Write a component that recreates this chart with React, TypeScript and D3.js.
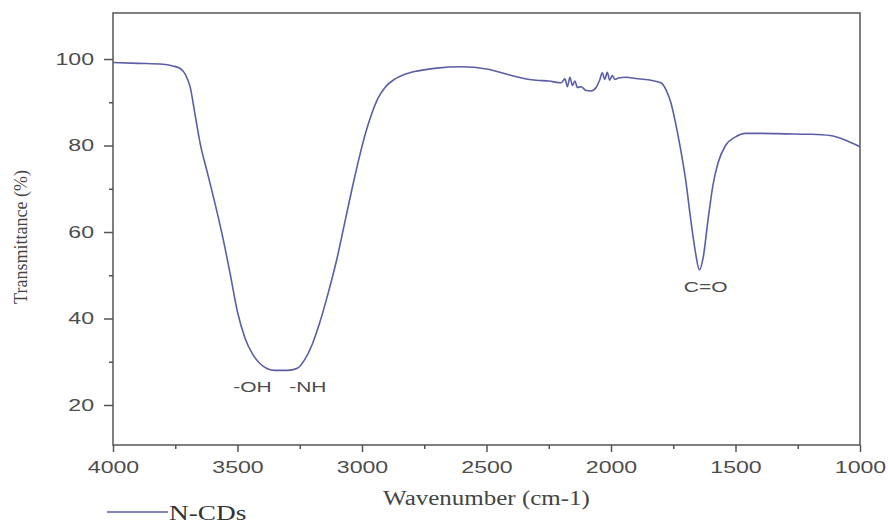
import { useEffect, useRef } from "react";
import * as d3 from "d3";

// FTIR spectrum of N-CDs
const wavenumbers = [
  4000, 3900, 3800, 3760, 3730, 3710, 3690, 3670, 3650, 3620, 3590, 3560, 3530,
  3500, 3470, 3440, 3410, 3380, 3350, 3300, 3260, 3230, 3200, 3170, 3140, 3100,
  3070, 3040, 3010, 2985, 2960, 2935, 2905, 2870, 2830, 2780, 2700, 2600, 2500,
  2450, 2400, 2350, 2300, 2250, 2200, 2185, 2175, 2165, 2155, 2145, 2135, 2120,
  2100, 2080, 2060, 2045, 2035, 2025, 2015, 2005, 1995, 1985, 1970, 1940, 1900,
  1850, 1800, 1780, 1760, 1740, 1720, 1700, 1680, 1660, 1645, 1630, 1610, 1590,
  1570, 1540, 1500, 1460, 1400, 1300, 1200, 1120, 1060, 1000,
];
const transmittance = [
  99.2, 99.0, 98.8, 98.4, 97.8, 96.5, 93.5, 87, 80.5, 73.5, 66.5, 59, 50.5,
  41.5, 35.5, 31.8, 29.6, 28.4, 28, 28, 28.5, 30.5, 34, 39, 45, 54,
  62, 70, 77.5, 83, 87.5, 91, 93.6, 95.3, 96.4, 97.2, 97.9, 98.2, 97.7,
  97.0, 96.2, 95.5, 95.1, 94.9, 94.5, 95.4, 93.6, 95.8, 93.9, 94.9, 93.4, 93.6,
  92.7, 92.6, 93.4, 95.2, 96.8, 95.3, 96.9, 95.1, 96.2, 95.3, 95.6, 95.8, 95.5,
  95.2, 94.5, 93, 90, 85, 79, 72, 63, 55, 51.2, 54, 63, 71,
  76, 80, 82, 82.8, 82.8, 82.7, 82.6, 82.3, 81.3, 79.7,
];

const xTicks = [4000, 3500, 3000, 2500, 2000, 1500, 1000];
const xMinor = [3750, 3250, 2750, 2250, 1750, 1250];
const yTicks = [20, 40, 60, 80, 100];
const yMinor = [30, 50, 70, 90];

// peak labels, anchored at the wavenumber under their centre
const annotations = [
  { label: "-OH\u00a0\u00a0\u00a0-NH", wn: 3330, t: 28 },
  { label: "C=O", wn: 1620, t: 51.2 },
];

const seriesName = "N-CDs";

export default function App() {
  const svgRef = useRef<SVGSVGElement | null>(null);
  const width = 888;
  const height = 525;

  useEffect(() => {
    if (!svgRef.current) return;
    const left = 113, right = 860, top = 13, bottom = 445;
    const axisColor = "#555";
    const lineColor = "#5b5ea6";
    const stretch = 1.36;

    const x = d3.scaleLinear([4000, 1000], [left, right]);
    const y = d3.scaleLinear([10.75, 110.64], [bottom, top]);

    const svg = d3.select(svgRef.current);

    // frame
    svg.append("rect")
      .attr("x", left).attr("y", top)
      .attr("width", right - left).attr("height", bottom - top)
      .attr("fill", "none").attr("stroke", axisColor).attr("stroke-width", 1.5);

    // x axis
    const gx = svg.append("g")
      .attr("transform", `translate(0,${bottom})`)
      .call(d3.axisBottom(x).tickValues(xTicks).tickFormat(d3.format("d")).tickSize(7).tickPadding(9).tickSizeOuter(0));
    gx.append("g").call(d3.axisBottom(x).tickValues(xMinor).tickFormat(() => "").tickSize(4).tickSizeOuter(0));

    // y axis
    const gy = svg.append("g")
      .attr("transform", `translate(${left},0)`)
      .call(d3.axisLeft(y).tickValues(yTicks).tickSize(9).tickSizeOuter(0));
    gy.append("g").call(d3.axisLeft(y).tickValues(yMinor).tickFormat(() => "").tickSize(4).tickSizeOuter(0));

    svg.selectAll(".domain").remove();
    svg.selectAll(".tick line").attr("stroke", axisColor).attr("stroke-width", 1.5);
    svg.selectAll(".tick text")
      .attr("fill", "#4d4d4d")
      .attr("font-family", "'Liberation Sans', Arial, sans-serif")
      .attr("font-size", 17);
    gx.selectAll(".tick text").attr("transform", `scale(${stretch},1)`);
    gy.selectAll(".tick text").attr("x", -19 / stretch).attr("transform", `scale(${stretch},1)`);

    // spectrum
    const data = wavenumbers.map((w, i) => [w, transmittance[i]] as [number, number]);
    const line = d3.line<[number, number]>()
      .x(d => x(d[0]))
      .y(d => y(d[1]))
      .curve(d3.curveMonotoneX);
    svg.append("path")
      .attr("fill", "none")
      .attr("stroke", lineColor)
      .attr("stroke-width", 1.6)
      .attr("d", line(data));

    // peak labels
    annotations.forEach(a => {
      svg.append("text")
        .attr("transform", `translate(${x(a.wn)},${y(a.t) + 22}) scale(1.4,1)`)
        .attr("text-anchor", "middle")
        .attr("fill", "#4d4d4d")
        .attr("font-family", "'Liberation Sans', Arial, sans-serif")
        .attr("font-size", 15)
        .text(a.label);
    });

    // axis titles
    svg.append("text")
      .attr("transform", `translate(${(left + right) / 2},505) scale(1.25,1)`)
      .attr("text-anchor", "middle")
      .attr("fill", "#444")
      .attr("font-family", "'Liberation Serif', 'Times New Roman', serif")
      .attr("font-size", 20)
      .text("Wavenumber (cm-1)");
    svg.append("text")
      .attr("transform", `translate(27,${(top + bottom) / 2 + 8}) rotate(-90)`)
      .attr("text-anchor", "middle")
      .attr("fill", "#444")
      .attr("font-family", "'Liberation Serif', 'Times New Roman', serif")
      .attr("font-size", 18)
      .text("Transmittance (%)");

    // legend
    svg.append("line")
      .attr("x1", 107).attr("x2", 168).attr("y1", 512).attr("y2", 512)
      .attr("stroke", lineColor).attr("stroke-width", 1.6);
    svg.append("text")
      .attr("transform", `translate(169,520) scale(1.3,1)`)
      .attr("fill", "#333")
      .attr("font-family", "'Liberation Serif', 'Times New Roman', serif")
      .attr("font-size", 21)
      .text(seriesName);

    return () => {
      svg.selectAll("*").remove();
    };
  }, []);

  return (
    <svg
      ref={svgRef}
      width={width}
      height={height}
      viewBox={`0 0 ${width} ${height}`}
      style={{ position: "absolute", left: 0, top: 0, background: "#fff" }}
    />
  );
}
